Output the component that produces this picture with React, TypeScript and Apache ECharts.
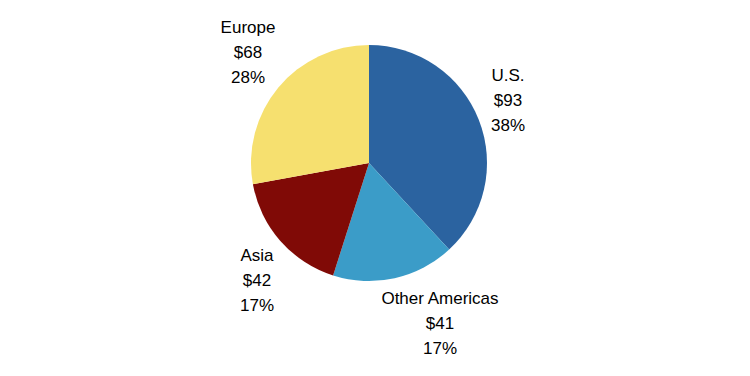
import React, { useEffect, useRef } from "react";
import * as echarts from "echarts";

const categories = ["U.S.", "Other Americas", "Asia", "Europe"];
const values = [93, 41, 42, 68];
const colors = ["#2B63A0", "#3B9CC8", "#800A06", "#F6E06F"];

// label block centres (layout only)
const labelCentres: [number, number][] = [
  [508, 100],
  [440, 323],
  [257, 280],
  [248, 52],
];

export default function App() {
  const ref = useRef<HTMLDivElement>(null);
  useEffect(() => {
    if (!ref.current) return;
    const chart = echarts.init(ref.current, undefined, { renderer: "svg" });
    chart.setOption({
      animation: false,
      series: [
        {
          type: "pie",
          center: [369, 163],
          radius: 118,
          startAngle: 90,
          clockwise: true,
          percentPrecision: 0,
          data: categories.map((name, i) => ({
            name,
            value: values[i],
            itemStyle: { color: colors[i] },
          })),
          itemStyle: { borderWidth: 0 },
          label: {
            show: true,
            position: "outside",
            formatter: (p: any) => `${p.name}\n$${p.value}\n${p.percent}%`,
            fontFamily: "Liberation Sans, Arial, sans-serif",
            fontSize: 17,
            lineHeight: 25,
            color: "#000",
            align: "center",
          },
          labelLine: { show: false },
          labelLayout: (params: any) => {
            const c = labelCentres[params.dataIndex];
            return { x: c[0], y: c[1], align: "center", verticalAlign: "middle" };
          },
        },
      ],
    });
    return () => chart.dispose();
  }, []);
  return (
    <div
      ref={ref}
      style={{ position: "fixed", left: 0, top: 0, width: 750, height: 376, background: "#fff" }}
    />
  );
}
